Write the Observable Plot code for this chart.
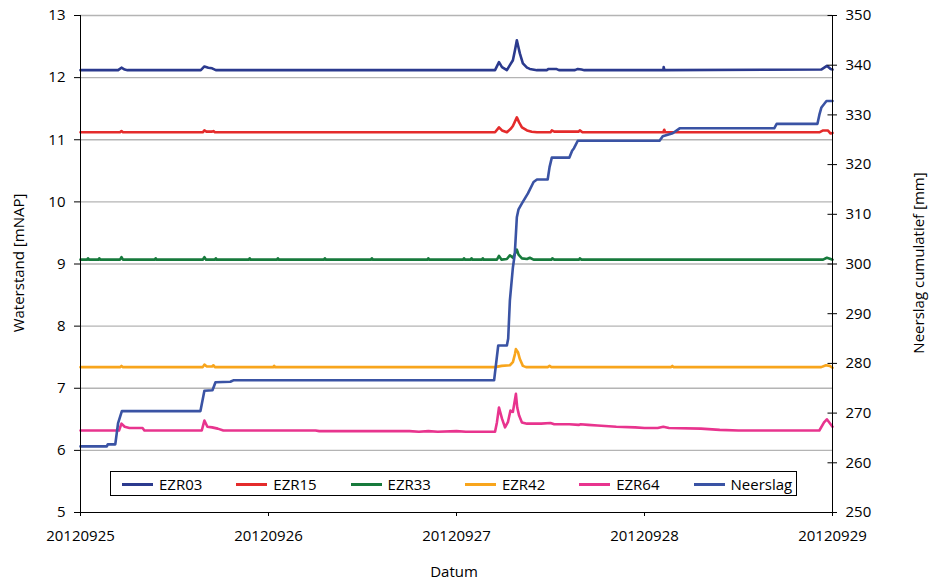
<!DOCTYPE html>
<html><head><meta charset="utf-8">
<script src="https://cdn.jsdelivr.net/npm/d3@7"></script>
<script src="https://cdn.jsdelivr.net/npm/@observablehq/plot@0.6"></script>
<style>
body{margin:0;background:#fff;}
#wrap{position:relative;width:932px;height:580px;font-family:"Open Sans",sans-serif;color:#000;overflow:hidden;}
.ttl{position:absolute;font-size:15px;line-height:1;white-space:nowrap;}
#legend{position:absolute;left:110px;top:471px;width:687px;height:25px;border:1px solid #000;background:#fff;box-sizing:border-box;}
.li{position:absolute;top:0;height:24px;display:flex;align-items:center;font-size:15px;white-space:nowrap;}
.sw{width:31px;height:3px;margin-right:6px;}
</style></head><body><div id="wrap"></div><script>
const dateLabels = ["20120925","20120926","20120927","20120928","20120929"];
const seriesNames = ["EZR03","EZR15","EZR33","EZR42","EZR64","Neerslag"];
const seriesColors = ["#2b3a8e","#e42b2b","#177a3c","#f8a51c","#e8348e","#3a53a4"];
const leftTicks = [5,6,7,8,9,10,11,12,13];
const rightTicks = [250,260,270,280,290,300,310,320,330,340,350];

// [day since 20120925, waterstand mNAP]
const ezr03 = [[0,12.12],[0.20,12.12],[0.218,12.16],[0.235,12.13],[0.25,12.12],[0.64,12.12],[0.659,12.18],[0.68,12.16],[0.70,12.15],[0.72,12.12],[1.5,12.12],[2.205,12.12],[2.226,12.25],[2.242,12.17],[2.268,12.12],[2.284,12.2],[2.30,12.28],[2.311,12.44],[2.321,12.6],[2.327,12.52],[2.337,12.39],[2.353,12.23],[2.375,12.16],[2.39,12.14],[2.428,12.12],[2.48,12.12],[2.49,12.14],[2.53,12.14],[2.545,12.12],[2.63,12.12],[2.645,12.14],[2.665,12.13],[2.68,12.12],[3.10,12.12],[3.102,12.17],[3.106,12.12],[3.94,12.13],[3.97,12.19],[3.99,12.14],[4,12.13]];
const ezr15 = [[0,11.12],[0.21,11.12],[0.218,11.14],[0.226,11.12],[0.65,11.12],[0.659,11.15],[0.67,11.13],[0.70,11.13],[0.707,11.14],[0.715,11.12],[2.205,11.12],[2.226,11.2],[2.242,11.15],[2.268,11.12],[2.29,11.18],[2.30,11.22],[2.321,11.36],[2.333,11.28],[2.348,11.2],[2.375,11.15],[2.40,11.13],[2.428,11.12],[2.50,11.12],[2.507,11.15],[2.52,11.13],[2.65,11.13],[2.656,11.15],[2.67,11.12],[3.10,11.12],[3.105,11.16],[3.11,11.12],[3.93,11.12],[3.95,11.15],[3.975,11.15],[3.99,11.1],[4,11.11]];
const ezr33 = [[0,9.07],[0.035,9.07],[0.04,9.09],[0.045,9.07],[0.095,9.07],[0.1,9.09],[0.105,9.07],[0.21,9.07],[0.218,9.11],[0.226,9.07],[0.395,9.07],[0.40,9.09],[0.405,9.07],[0.65,9.07],[0.659,9.11],[0.668,9.07],[0.715,9.07],[0.72,9.09],[0.725,9.07],[0.895,9.07],[0.9,9.09],[0.905,9.07],[1.045,9.07],[1.05,9.09],[1.055,9.07],[1.295,9.07],[1.3,9.09],[1.305,9.07],[1.545,9.07],[1.55,9.09],[1.555,9.07],[1.845,9.07],[1.85,9.09],[1.855,9.07],[2.035,9.07],[2.04,9.09],[2.045,9.07],[2.075,9.07],[2.08,9.09],[2.085,9.07],[2.135,9.07],[2.14,9.09],[2.145,9.07],[2.215,9.07],[2.226,9.13],[2.24,9.07],[2.268,9.08],[2.284,9.14],[2.30,9.1],[2.321,9.23],[2.33,9.15],[2.348,9.09],[2.375,9.08],[2.39,9.1],[2.41,9.07],[2.505,9.07],[2.51,9.09],[2.52,9.07],[2.652,9.07],[2.656,9.09],[2.665,9.07],[3.95,9.07],[3.97,9.1],[3.99,9.08],[4,9.07]];
const ezr42 = [[0,7.34],[0.21,7.34],[0.218,7.36],[0.226,7.34],[0.65,7.34],[0.659,7.38],[0.672,7.35],[0.70,7.35],[0.707,7.37],[0.715,7.34],[1.025,7.34],[1.03,7.36],[1.035,7.34],[2.205,7.34],[2.24,7.36],[2.284,7.37],[2.30,7.42],[2.311,7.55],[2.316,7.63],[2.327,7.58],[2.337,7.47],[2.353,7.36],[2.37,7.34],[2.485,7.34],[2.495,7.36],[2.505,7.34],[3.14,7.34],[3.148,7.36],[3.156,7.34],[3.94,7.34],[3.965,7.37],[3.985,7.36],[4,7.33]];
const ezr64 = [[0,6.32],[0.205,6.32],[0.218,6.43],[0.235,6.38],[0.26,6.36],[0.33,6.36],[0.34,6.32],[0.645,6.32],[0.659,6.48],[0.675,6.38],[0.70,6.37],[0.73,6.35],[0.76,6.32],[1.25,6.32],[1.27,6.31],[1.75,6.31],[1.8,6.30],[1.85,6.31],[1.9,6.30],[2.0,6.31],[2.05,6.30],[2.205,6.30],[2.215,6.45],[2.226,6.69],[2.242,6.51],[2.258,6.37],[2.274,6.46],[2.287,6.64],[2.30,6.62],[2.316,6.91],[2.323,6.69],[2.333,6.56],[2.348,6.45],[2.375,6.43],[2.45,6.43],[2.50,6.44],[2.52,6.42],[2.6,6.42],[2.65,6.41],[2.66,6.42],[2.7,6.41],[2.75,6.40],[2.85,6.38],[2.95,6.37],[3.0,6.36],[3.07,6.36],[3.1,6.38],[3.13,6.36],[3.3,6.35],[3.4,6.33],[3.5,6.32],[3.93,6.32],[3.955,6.45],[3.97,6.5],[3.99,6.42],[4,6.38]];
// [day, neerslag cumulatief mm] (right axis)
const neerslag = [[0,263.3],[0.14,263.3],[0.145,263.7],[0.185,263.7],[0.20,268],[0.22,270.4],[0.638,270.4],[0.659,274.5],[0.702,274.6],[0.718,276.2],[0.797,276.3],[0.813,276.6],[2.20,276.6],[2.222,283.6],[2.268,283.6],[2.275,285],[2.284,292.7],[2.30,299.3],[2.31,302],[2.321,309.4],[2.33,311],[2.348,312.2],[2.38,314.2],[2.41,316.5],[2.428,317],[2.485,317],[2.495,319.5],[2.507,321.4],[2.60,321.4],[2.615,322.8],[2.625,323.3],[2.645,324.8],[3.08,324.8],[3.097,325.7],[3.15,326.3],[3.187,327.3],[3.69,327.3],[3.703,328.2],[3.92,328.2],[3.93,330],[3.941,331.5],[3.968,332.8],[4,332.8]];

// map right-axis mm onto the left-axis scale (250..350 mm <-> 5..13 m)
const toLeft = v => 5 + (v - 250) * 8 / 100;
const fromLeft = y => 250 + (y - 5) * 100 / 8;

const waterSets = [ezr03, ezr15, ezr33, ezr42, ezr64];
const rows = [];
waterSets.forEach((s, i) => s.forEach(([t, v]) => rows.push({series: seriesNames[i], t, y: v})));
const rainRows = neerslag.map(([t, v]) => ({series: "Neerslag", t, y: toLeft(v)}));

const chart = Plot.plot({
  width: 932, height: 580,
  marginLeft: 80, marginRight: 100, marginTop: 15, marginBottom: 68,
  style: {fontFamily: "'Open Sans', sans-serif", fontSize: "15px", color: "#000", background: "#fff"},
  x: {domain: [0, 4]},
  y: {domain: [5, 13]},
  color: {domain: seriesNames, range: seriesColors},
  marks: [
    Plot.ruleY(leftTicks.filter(v => v > 5), {stroke: "#b4b4b4", strokeWidth: 1.3}),
    Plot.line(rows, {x: "t", y: "y", z: "series", stroke: "series", strokeWidth: 2.6, strokeLinejoin: "round"}),
    Plot.line(rainRows, {x: "t", y: "y", stroke: "series", strokeWidth: 2.6, strokeLinejoin: "round"}),
    Plot.ruleX([0, 4], {stroke: "#000", strokeWidth: 1}),
    Plot.ruleY([5], {stroke: "#000", strokeWidth: 1}),
    Plot.axisY({ticks: leftTicks, tickSize: 6, tickPadding: 9, label: null, fontSize: 15}),
    Plot.axisY({anchor: "right", ticks: rightTicks.map(toLeft), tickFormat: v => String(Math.round(fromLeft(v))), tickSize: 4, tickPadding: 9, label: null, fontSize: 15}),
    Plot.ruleY(rightTicks.map(toLeft), {x1: 4 - 0.024, x2: 4, stroke: "#000"}),
    Plot.axisX({ticks: [0, 1, 2, 3, 4], tickFormat: i => dateLabels[i], tickSize: 4, tickPadding: 14, label: null, fontSize: 15})
  ]
});
const wrap = document.getElementById("wrap");
wrap.appendChild(chart);

function addText(txt, x, y, rot) {
  const d = document.createElement("div");
  d.className = "ttl";
  d.textContent = txt;
  d.style.left = x + "px"; d.style.top = y + "px";
  d.style.transform = "translate(-50%,-50%)" + (rot ? " rotate(-90deg)" : "");
  wrap.appendChild(d);
}
addText("Waterstand [mNAP]", 18, 263, true);
addText("Neerslag cumulatief [mm]", 918, 263, true);
addText("Datum", 454, 571, false);

const lg = document.createElement("div");
lg.id = "legend";
seriesNames.forEach((n, i) => {
  const it = document.createElement("div");
  it.className = "li";
  it.style.left = (11 + i * 114.3) + "px";
  const sw = document.createElement("div");
  sw.className = "sw"; sw.style.background = seriesColors[i];
  const tx = document.createElement("span");
  tx.textContent = n;
  it.appendChild(sw); it.appendChild(tx);
  lg.appendChild(it);
});
wrap.appendChild(lg);
</script></body></html>
